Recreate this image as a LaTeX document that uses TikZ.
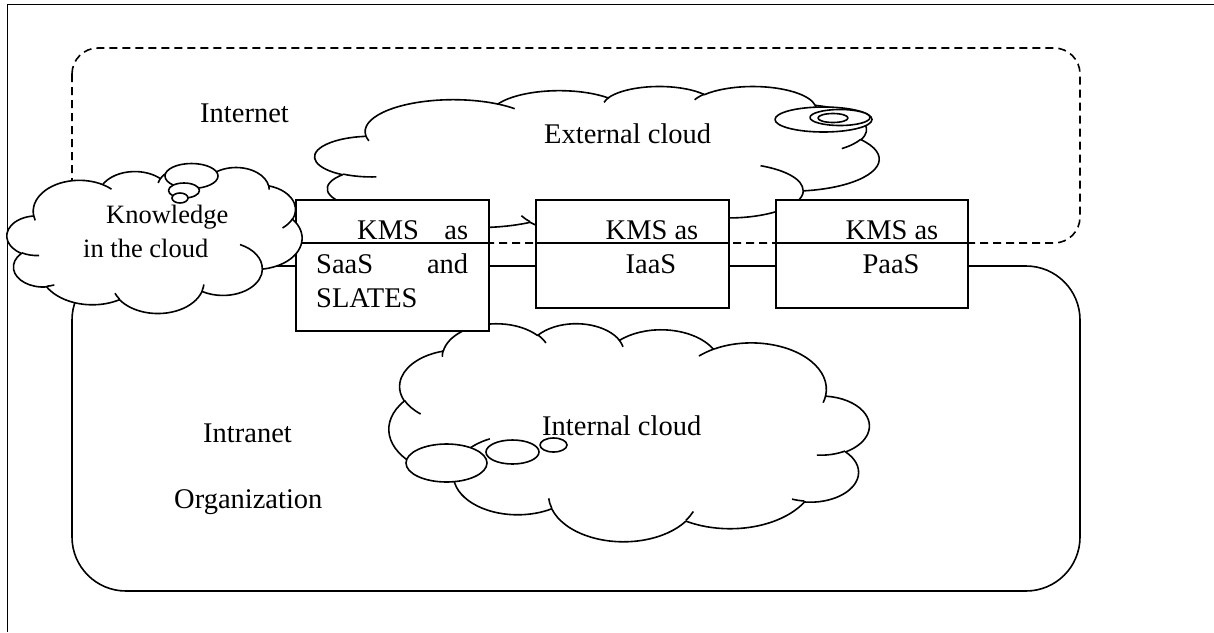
\documentclass[tikz,border=0pt]{standalone}
\usepackage{fontspec}
\setmainfont{Liberation Serif}

% parametric angle of the point that lies in direction #1 on an ellipse with radii #2, #3
\pgfmathdeclarefunction{visang}{3}{%
  \pgfmathparse{#1+atan((#2/#3-1)*sin(#1)*cos(#1)/(cos(#1)^2+(#2/#3)*sin(#1)^2))}%
}

\tikzset{
  stroke/.style={line width=1.6pt, line join=round},
  netedge/.style={line width=1.6pt, dash pattern=on 8pt off 5pt},
  kmsbox/.style={draw, fill=white, line width=1.6pt, rectangle, inner sep=0pt},
  puff/.style={draw, fill=white, line width=1.6pt, line join=round},
  lbl/.style={inner sep=0pt, anchor=base west, font=\fontsize{28.5}{34}\selectfont},
  lblc/.style={inner sep=0pt, anchor=base, font=\fontsize{28.5}{34}\selectfont},
  klbl/.style={inner sep=0pt, anchor=base west, font=\fontsize{26.5}{32}\selectfont},
  % elliptic arc continuing the path: radii, start direction, sweep (degrees)
  carc/.style n args={4}{insert path={arc[x radius=#1, y radius=#2,
      start angle={visang(#3,#1,#2)}, end angle={visang(#3+#4,#1,#2)}]}},
  % cloud outline in a 432 x 432 box
  cloud outline/.style={insert path={(39.00,143.70)
      [carc={67.53}{91.90}{-190.4875}{123.7805}]
      [carc={53.33}{72.67}{-144.1024}{89.9452}]
      [carc={43.65}{59.45}{-145.8079}{99.7230}]
      [carc={48.57}{65.95}{-130.9861}{117.2417}]
      [carc={53.33}{72.73}{-78.7089}{109.0269}]
      [carc={67.75}{92.20}{-46.2673}{130.2690}]
      [carc={57.85}{78.67}{0.6250}{114.0333}]
      [carc={67.52}{92.15}{22.4516}{115.1726}]
      [carc={77.20}{105.43}{66.2426}{75.7110}]
      [carc={43.60}{59.18}{-274.9421}{146.7356}]
      [carc={43.45}{59.45}{-246.8285}{152.5189}] -- cycle}},
  % short inner arcs where the puffs meet
  cloud ticks/.style={insert path={
      (46.93,261.77) [carc={43.45}{59.45}{86.7420}{26.4295}]
      (69.28,348.99) [carc={43.60}{59.18}{73.6105}{11.4475}]
      (164.78,390.90) [carc={67.52}{92.15}{137.6242}{14.0811}]
      (288.27,347.51) [carc={67.52}{92.15}{6.4533}{15.9984}]
      (341.29,229.54) [carc={57.85}{78.67}{-70.2924}{70.9174}]
      (417.98,153.54) [carc={53.33}{72.73}{30.3180}{27.7515}]
      (383.24,54.26) [carc={48.57}{65.95}{-13.7443}{14.8589}]
      (290.78,39.52) [carc={48.57}{65.95}{-149.1815}{18.1954}]
      (221.41,47.20) [carc={43.65}{59.45}{-163.4943}{17.6864}]
      (140.00,51.92) [carc={67.53}{91.90}{-66.7070}{12.3194}]
      (41.27,157.89) [carc={67.53}{91.90}{157.6544}{11.8582}]}},
}

% cloud placed at (#1,#2) with unit vectors #3 and #4 (pt)
\newcommand\drawcloud[4]{%
  \begin{scope}[shift={(#1,#2)}, x=#3pt, y=#4pt]
    \path[puff] [cloud outline];
    \path[stroke, draw] [cloud ticks];
  \end{scope}}

\begin{document}
\begin{tikzpicture}[x=1pt, y=-1pt]
\useasboundingbox (0,0) rectangle (1214,632);

% page frame
\draw[line width=1.5pt] (1214,4.5) -- (7.5,4.5) -- (7.5,632);

% Internet zone and Intranet zone
\draw[netedge, rounded corners=26pt] (72,48) rectangle (1080,243);
\draw[stroke, rounded corners=54pt] (72,266) rectangle (1080,591);

% external cloud
\drawcloud{315}{86}{1.30556}{-0.34722}
\path[puff] (823.5,119.5) ellipse[x radius=48.5, y radius=12.5];
\path[puff] (840,117.5) ellipse[x radius=30, y radius=8];
\path[puff] (833,118) ellipse[x radius=15, y radius=4.5];

% internal cloud (mirrored)
\drawcloud{869}{323}{-1.11111}{-0.50463}
\path[puff] (446.5,463) ellipse[x radius=40.5, y radius=19];
\path[puff] (512.5,452) ellipse[x radius=26.5, y radius=12];
\path[puff] (553.5,445) ellipse[x radius=13.5, y radius=7];

% service boxes
\node[kmsbox, minimum width=193pt, minimum height=131pt] (saas) at (392.5,265.5) {};
\node[kmsbox, minimum width=193pt, minimum height=108pt] (iaas) at (632.5,254) {};
\node[kmsbox, minimum width=192pt, minimum height=108pt] (paas) at (872,254) {};
\coordinate (edge) at (0,243);
\draw[stroke] (saas.west |- edge) -- (saas.east |- edge);
\draw[stroke] (iaas.west |- edge) -- (iaas.east |- edge);
\draw[stroke] (paas.west |- edge) -- (paas.east |- edge);

% knowledge cloud
\drawcloud{7}{167}{0.68287}{-0.33796}
\path[puff] (191.5,176) ellipse[x radius=26.5, y radius=12.5];
\path[puff] (184,190.5) ellipse[x radius=15.5, y radius=7.5];
\path[puff] (180,198) ellipse[x radius=8, y radius=5];

% labels
\node[lbl] (internet) at (200,122) {Internet};
\node[lbl] (extcloud) at (544,143) {External cloud};
\node[klbl] (know1) at (106,223) {Knowledge};
\node[klbl] (know2) at (83,257) {in the cloud};
\node[lbl] (saas1) at (316,239) {\makebox[152pt][l]{\hspace*{41pt}KMS\hfill as}};
\node[lbl] (saas2) at (316,273) {\makebox[152pt][s]{SaaS\hfill and}};
\node[lbl] (saas3) at (316,307) {SLATES};
\node[lblc] (iaas1) at (652,239) {KMS as};
\node[lblc] (iaas2) at (651,273) {IaaS};
\node[lblc] (paas1) at (892,239) {KMS as};
\node[lblc] (paas2) at (891,273) {PaaS};
\node[lbl] (intcloud) at (542,435) {Internal cloud};
\node[lbl] (intranet) at (203,442) {Intranet};
\node[lbl] (org) at (174,508) {Organization};
\end{tikzpicture}
\end{document}
